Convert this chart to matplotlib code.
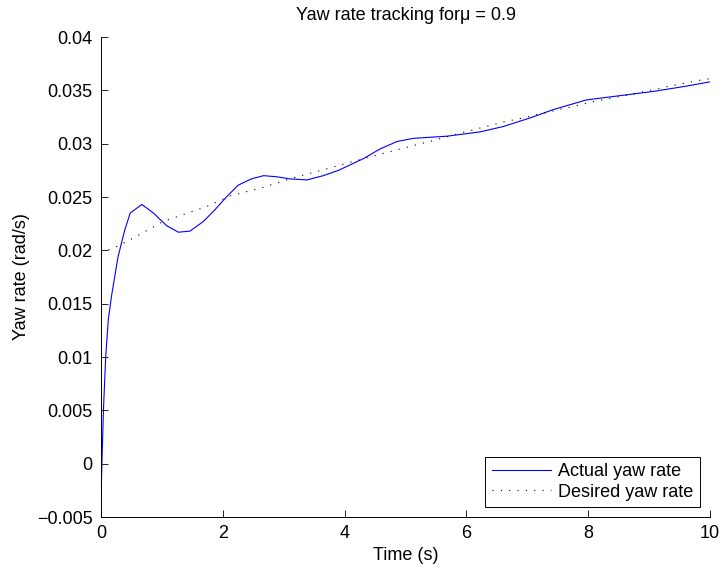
import matplotlib
matplotlib.use('Agg')
import matplotlib.pyplot as plt

plt.rcParams['font.family'] = ['Liberation Sans', 'DejaVu Sans']
plt.rcParams['axes.unicode_minus'] = True

# actual yaw rate
t_act = [0, 0.01, 0.025, 0.04, 0.077, 0.12, 0.175, 0.28, 0.39, 0.48, 0.67, 0.86,
         1.08, 1.27, 1.46, 1.68, 1.87, 2.06, 2.25, 2.47, 2.67, 2.88, 3.1, 3.38,
         3.65, 3.9, 4.31, 4.58, 4.86, 5.13, 5.68, 6.22, 6.6, 7.04, 7.43, 7.97,
         8.52, 9.07, 9.62, 10.0]
r_act = [-0.0045, -0.001, 0.002, 0.005, 0.010, 0.0135, 0.0158, 0.0194, 0.0219,
         0.0235, 0.0243, 0.0235, 0.0223, 0.0217, 0.0218, 0.0227, 0.0238, 0.0250,
         0.0261, 0.0267, 0.0270, 0.0269, 0.0267, 0.0266, 0.0270, 0.0275, 0.0286,
         0.0295, 0.0302, 0.0305, 0.0307, 0.0311, 0.0316, 0.0324, 0.0332, 0.0341,
         0.0345, 0.0349, 0.0354, 0.0358]

# desired yaw rate
t_des = [0, 0.1, 0.24, 0.48, 1.02, 1.73, 2.12, 2.66, 3.1, 3.87, 4.25, 4.64, 5.05,
         5.46, 5.84, 6.25, 6.66, 6.92, 7.45, 8.14, 8.69, 9.34, 9.88, 10.0]
r_des = [0.0197, 0.0200, 0.0203, 0.0210, 0.0227, 0.0241, 0.0251, 0.0259, 0.0267,
         0.0279, 0.0285, 0.0291, 0.0297, 0.0303, 0.0309, 0.0315, 0.0321, 0.0324,
         0.0331, 0.0340, 0.0346, 0.0354, 0.0360, 0.0361]

xticks = [0, 2, 4, 6, 8, 10]
yticks = [-0.005, 0, 0.005, 0.01, 0.015, 0.02, 0.025, 0.03, 0.035, 0.04]
yticklabels = ['\u22120.005', '0', '0.005', '0.01', '0.015', '0.02', '0.025',
               '0.03', '0.035', '0.04']

fs = 13
fig = plt.figure(figsize=(7.21, 5.70), dpi=100)
ax = fig.add_axes([101/721, 53/570, 609/721, 480/570])

ax.plot(t_act, r_act, color=(0, 0, 1), linewidth=0.8, label='Actual yaw rate')
ax.plot(t_des, r_des, color='black', linewidth=0.8, linestyle=(0, (1, 6.5)),
        label='Desired yaw rate')

ax.set_xlim(0, 10)
ax.set_ylim(-0.005, 0.04)
ax.set_xticks(xticks)
ax.set_xticklabels([str(v) for v in xticks])
ax.set_yticks(yticks)
ax.set_yticklabels(yticklabels)
ax.tick_params(direction='in', length=5, width=0.6, labelsize=fs, pad=6)

ax.spines['top'].set_visible(False)
ax.spines['right'].set_visible(False)
ax.spines['left'].set_linewidth(0.7)
ax.spines['bottom'].set_linewidth(0.7)

ax.set_xlabel('Time (s)', fontsize=fs, labelpad=3)
ax.set_ylabel('Yaw rate (rad/s)', fontsize=fs, labelpad=5)
ax.set_title('Yaw rate tracking for\u03bc = 0.9', fontsize=fs, pad=12)

leg = ax.legend(loc='lower right', fontsize=fs, fancybox=False, framealpha=1,
                edgecolor='black', borderaxespad=0.55, handlelength=3.3,
                handletextpad=0.4, labelspacing=0.2, borderpad=0.35)
leg.get_frame().set_linewidth(0.7)

fig.savefig('out.png', dpi=100)
